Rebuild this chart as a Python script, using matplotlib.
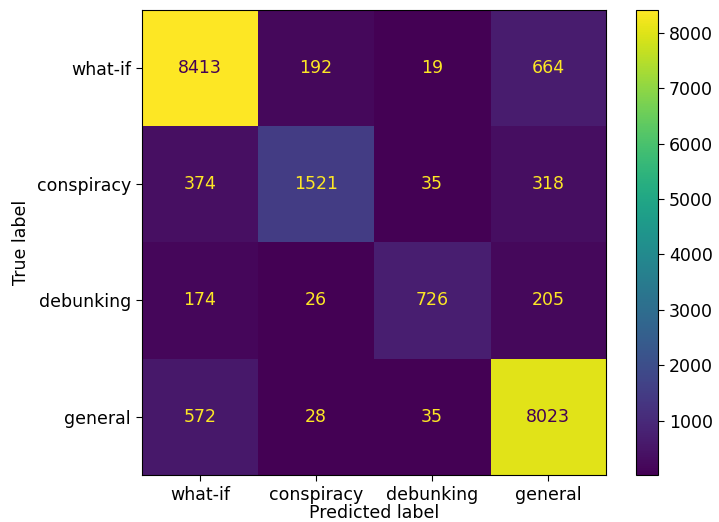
import numpy as np
import matplotlib.pyplot as plt

# Confusion matrix for the four text classes
labels = ["what-if", "conspiracy", "debunking", "general"]
counts = np.array([
    [8413, 192, 19, 664],
    [374, 1521, 35, 318],
    [174, 26, 726, 205],
    [572, 28, 35, 8023],
])

plt.rcParams["font.size"] = 12.5
plt.rcParams["xtick.major.size"] = 4.5
plt.rcParams["ytick.major.size"] = 4.5
plt.rcParams["axes.labelpad"] = 5

fig = plt.figure(figsize=(7.19, 5.22), dpi=100)
ax = fig.add_axes([0.1975, 0.09, 0.6455, 0.891])
cax = fig.add_axes([0.884, 0.09, 0.031, 0.891])

cmap = plt.get_cmap("viridis")
im = ax.imshow(counts, cmap=cmap, interpolation="nearest",
               vmin=counts.min(), vmax=counts.max())

# Dark text on bright cells, bright text on dark cells
thresh = (counts.max() + counts.min()) / 2.0
for i in range(counts.shape[0]):
    for j in range(counts.shape[1]):
        color = cmap(0.0) if counts[i, j] > thresh else cmap(1.0)
        ax.text(j, i, str(counts[i, j]), ha="center", va="center",
                color=color)

ax.set_xticks(np.arange(len(labels)))
ax.set_yticks(np.arange(len(labels)))
ax.set_xticklabels(labels)
ax.set_yticklabels(labels)
ax.set_xlabel("Predicted label", labelpad=0)
ax.set_ylabel("True label")

cb = fig.colorbar(im, cax=cax)
cb.set_ticks(np.arange(1000, 9000, 1000))

plt.savefig("out.png", dpi=100)
